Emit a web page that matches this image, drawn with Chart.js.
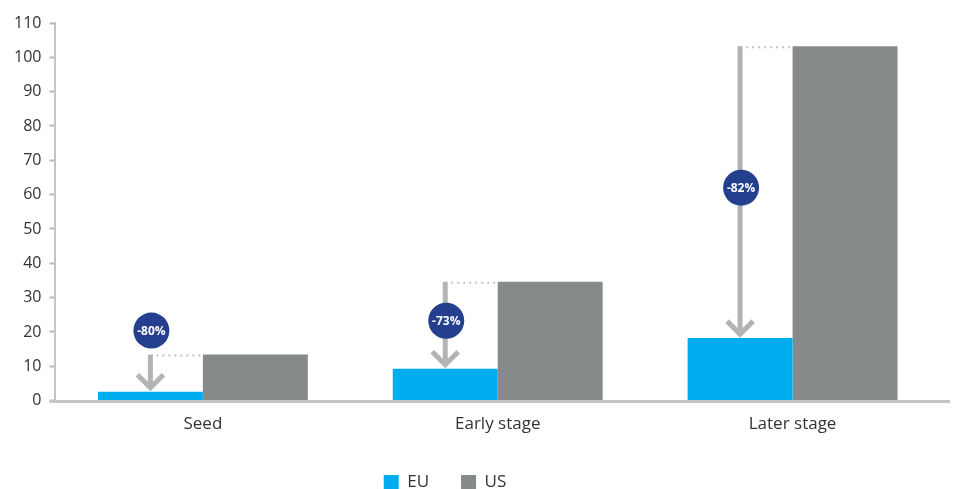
<!DOCTYPE html>
<html>
<head>
<meta charset="utf-8">
<style>
  html, body { margin: 0; padding: 0; background: #fff; }
  #wrap { width: 962px; height: 489px; }
</style>
<script src="https://cdn.jsdelivr.net/npm/chart.js@4.4.0/dist/chart.umd.min.js"></script>
</head>
<body>
<div id="wrap"><canvas id="gapChart"></canvas></div>
<script>
const categories = ['Seed', 'Early stage', 'Later stage'];
const euValues = [2.6, 9.3, 18.2];
const usValues = [13.4, 34.6, 103.2];
const gapLabels = ['-80%', '-73%', '-82%'];
const yMax = 110;
const yStep = 10;

const FONT = "'Open Sans', 'Noto Sans', sans-serif";

// arrows, dotted guides and the percentage badges
const gapArrows = {
    id: 'gapArrows',
    afterLayout(chart) {
        // legend sits a bit left of the canvas centre
        chart.legend.left -= 28;
        chart.legend.right -= 28;
    },
    beforeDatasetsDraw(chart) {
        const c = chart.ctx;
        const area = chart.chartArea;
        const y0 = chart.scales.y.getPixelForValue(0);
        c.save();
        c.strokeStyle = '#c3c4c5';
        c.lineWidth = 3;
        c.beginPath();
        c.moveTo(area.left - 6, y0 + 1);
        c.lineTo(area.right + 10, y0 + 1);
        c.stroke();
        c.restore();
    },
    afterDatasetsDraw(chart) {
        const c = chart.ctx;
        const eu = chart.getDatasetMeta(0).data;
        const us = chart.getDatasetMeta(1).data;
        c.save();
        eu.forEach((bar, i) => {
            const x = bar.x;
            const yTop = us[i].y;
            const yBot = bar.y - 3;
            const usLeft = us[i].x - us[i].width / 2;

            // dotted guide to the US bar
            c.strokeStyle = '#c3c4c5';
            c.lineWidth = 2;
            c.setLineDash([2, 4]);
            c.beginPath();
            c.moveTo(x, yTop + 1);
            c.lineTo(usLeft, yTop + 1);
            c.stroke();
            c.setLineDash([]);

            // shaft
            c.strokeStyle = '#b2b4b5';
            c.lineWidth = 5;
            c.beginPath();
            c.moveTo(x, yTop);
            c.lineTo(x, yBot - 2);
            c.stroke();

            // head
            c.lineJoin = 'miter';
            c.beginPath();
            c.moveTo(x - 13, yBot - 14);
            c.lineTo(x, yBot - 1);
            c.lineTo(x + 13, yBot - 14);
            c.stroke();

            // badge
            const by = (yBot - yTop) > 60 ? (yTop + yBot) / 2 - 3 : yTop - 24;
            c.fillStyle = '#243f8e';
            c.beginPath();
            c.arc(x + 1, by, 18, 0, Math.PI * 2);
            c.fill();
            c.fillStyle = '#fff';
            c.font = 'bold 12px ' + FONT;
            c.textAlign = 'center';
            c.textBaseline = 'middle';
            c.fillText(gapLabels[i], x + 1, by + 1);
        });
        c.restore();
    }
};

document.addEventListener('DOMContentLoaded', function() {
    const ctx = document.getElementById('gapChart');

    new Chart(ctx, {
        type: 'bar',
        data: {
            labels: categories,
            datasets: [
                {
                    label: 'EU',
                    data: euValues,
                    backgroundColor: '#00aeef',
                    borderWidth: 0,
                    barPercentage: 1,
                    categoryPercentage: 0.712
                },
                {
                    label: 'US',
                    data: usValues,
                    backgroundColor: '#878a8b',
                    borderWidth: 0,
                    barPercentage: 1,
                    categoryPercentage: 0.712
                }
            ]
        },
        options: {
            responsive: true,
            maintainAspectRatio: false,
            animation: false,
            layout: {
                padding: { left: 6, right: 22, top: 23, bottom: -12 }
            },
            scales: {
                x: {
                    grid: { display: false },
                    border: { display: false },
                    ticks: {
                        font: { family: FONT, size: 17 },
                        color: '#333',
                        padding: 5
                    },
                    afterFit: function(scale) {
                        scale.height += 3;
                    }
                },
                y: {
                    min: 0,
                    max: yMax,
                    grid: {
                        drawOnChartArea: false,
                        drawTicks: true,
                        tickLength: 6,
                        tickWidth: 2,
                        tickColor: '#b8b9ba'
                    },
                    border: {
                        display: true,
                        color: '#c3c4c5',
                        width: 2,
                        dash: [2, 4]
                    },
                    ticks: {
                        stepSize: yStep,
                        font: { family: FONT, size: 16 },
                        color: '#333',
                        padding: 8
                    }
                }
            },
            plugins: {
                legend: {
                    position: 'bottom',
                    align: 'center',
                    labels: {
                        boxWidth: 15,
                        boxHeight: 15,
                        padding: 32,
                        font: { family: FONT, size: 17 },
                        color: '#333'
                    }
                },
                title: { display: false },
                tooltip: { enabled: false }
            }
        },
        plugins: [gapArrows]
    });
});
</script>
</body>
</html>
